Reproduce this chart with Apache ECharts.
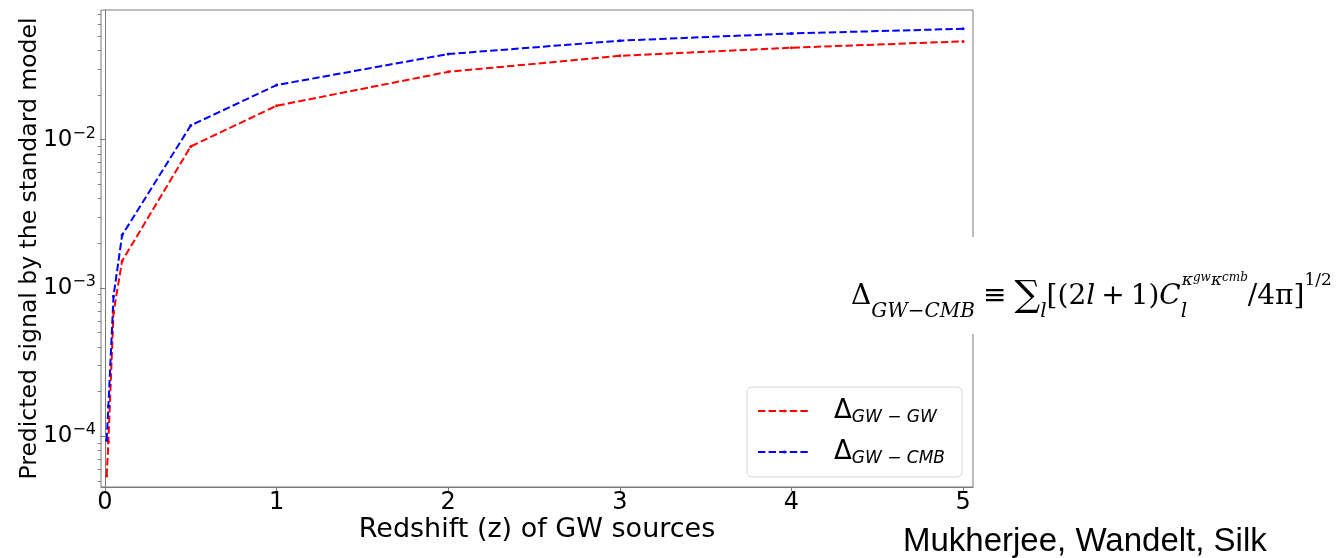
<!DOCTYPE html>
<html>
<head>
<meta charset="utf-8">
<script src="https://cdn.jsdelivr.net/npm/echarts@6/dist/echarts.min.js"></script>
<style>
  html, body { margin: 0; padding: 0; background: #ffffff; }
  #chart { width: 1336px; height: 558px; }
</style>
</head>
<body>
<div id="chart"></div>
<script>
// Redshift of the gravitational-wave sources
const redshift = [0.01, 0.02, 0.05, 0.1, 0.5, 1, 2, 3, 4, 5];
// Predicted cross-correlation signal, GW x GW
const deltaGwGw = [5.4e-5, 9.2e-5, 6.8e-4, 1.52e-3, 8.99e-3, 0.0169, 0.0286, 0.0367, 0.0416, 0.0459];
// Predicted cross-correlation signal, GW x CMB
const deltaGwCmb = [9.4e-5, 1.6e-4, 8.8e-4, 2.27e-3, 0.01245, 0.0233, 0.0377, 0.0464, 0.0519, 0.0558];

const seriesNames = ['GW-GW', 'GW-CMB'];
const legendSubscripts = ['GW − GW', 'GW − CMB'];

// Axis ticks
const xTickValues = [0, 1, 2, 3, 4, 5];
const yMajorTicks = [1e-4, 1e-3, 1e-2];
const yMinorTicks = [5e-5, 6e-5, 7e-5, 8e-5, 9e-5,
                     2e-4, 3e-4, 4e-4, 5e-4, 6e-4, 7e-4, 8e-4, 9e-4,
                     2e-3, 3e-3, 4e-3, 5e-3, 6e-3, 7e-3, 8e-3, 9e-3,
                     2e-2, 3e-2, 4e-2, 5e-2, 6e-2, 7e-2];

// Axis extents
const xRange = [-0.023, 5.058];
const yRange = [4.55e-5, 0.0747];

const spineColor = '#7a7a7a';
const tickFont = 'DejaVu Sans';
const mathFont = 'DejaVu Serif';

const chart = echarts.init(document.getElementById('chart'), null, { renderer: 'canvas' });

function pairs(xs, ys) { return xs.map((x, i) => [x, ys[i]]); }

function lineSeries(name, values, color) {
  return {
    type: 'line',
    name: name,
    data: pairs(redshift, values),
    xAxisIndex: 0,
    yAxisIndex: 0,
    symbol: 'circle',
    symbolSize: 3,
    showSymbol: true,
    itemStyle: { color: color },
    lineStyle: { color: color, width: 2, type: [7.4, 3.2] },
    emphasis: { disabled: true },
    z: 3
  };
}

// Definition of the cross-correlation amplitude, typeset as rich text
const formulaText = '{m|Δ}{sub|GW−CMB}{sp|}{m|≡}{sp|}{sum|∑}{sub|l}{m|[(2}{mi|l}{sp2|}{m|+}{sp2|}{m|1)}' +
  '{mi|C}{subz|l}{sup|κ}{supsub|gw}{sup|κ}{supsub|cmb}{m|/4π]}{supr|1/2}';

const option = {
  animation: false,
  backgroundColor: '#ffffff',
  grid: {
    left: 101, top: 10, right: 363, bottom: 71,
    show: true, borderColor: spineColor, borderWidth: 1, backgroundColor: 'transparent'
  },
  xAxis: [{
    type: 'value',
    min: xRange[0], max: xRange[1],
    axisLine: { show: true, lineStyle: { color: spineColor, width: 1 } },
    axisTick: { show: true, length: 4, customValues: xTickValues, lineStyle: { color: spineColor } },
    axisLabel: {
      customValues: xTickValues, margin: 4,
      fontFamily: tickFont, fontSize: 24, color: '#000'
    },
    splitLine: { show: false },
    name: 'Redshift (z) of GW sources',
    nameLocation: 'middle', nameGap: 29, nameMoveOverlap: false,
    nameTextStyle: { fontFamily: tickFont, fontSize: 27, color: '#000' }
  }],
  yAxis: [{
    type: 'log', logBase: 10,
    min: yRange[0], max: yRange[1],
    axisLine: { show: true, lineStyle: { color: spineColor, width: 1 } },
    axisTick: { show: true, length: 5, customValues: yMajorTicks, lineStyle: { color: spineColor } },
    axisLabel: {
      customValues: yMajorTicks, margin: 5,
      formatter: v => '{b|10}{s|−' + Math.abs(Math.round(Math.log10(v))) + '}',
      rich: {
        b: { fontFamily: tickFont, fontSize: 23, color: '#000', lineHeight: 28, verticalAlign: 'middle' },
        s: { fontFamily: tickFont, fontSize: 16, color: '#000', lineHeight: 20, verticalAlign: 'top' }
      }
    },
    splitLine: { show: false },
    name: 'Predicted signal by the standard model',
    nameLocation: 'middle', nameGap: 59, nameRotate: 90, nameMoveOverlap: false,
    nameTextStyle: { fontFamily: tickFont, fontSize: 23.5, color: '#000' }
  }, {
    type: 'log', logBase: 10,
    min: yRange[0], max: yRange[1],
    position: 'left',
    axisLine: { show: false },
    axisTick: { show: true, length: 3, customValues: yMinorTicks, lineStyle: { color: spineColor } },
    axisLabel: { show: false },
    splitLine: { show: false }
  }],
  legend: {
    orient: 'vertical',
    left: 747, top: 387,
    itemWidth: 53, itemHeight: 4, itemGap: 13,
    padding: [11, 17, 10, 10],
    borderColor: '#d6d6d6', borderWidth: 1, borderRadius: 5,
    backgroundColor: 'rgba(255,255,255,0.8)',
    data: seriesNames,
    formatter: name => '{gap|}{d|Δ}{s|' + legendSubscripts[seriesNames.indexOf(name)] + '}',
    textStyle: {
      rich: {
        gap: { width: 18 },
        d: { fontFamily: tickFont, fontSize: 26, color: '#000', lineHeight: 30, verticalAlign: 'middle' },
        s: { fontFamily: tickFont, fontSize: 17, fontStyle: 'italic', color: '#000', lineHeight: 16, verticalAlign: 'bottom' }
      }
    }
  },
  graphic: [
    {
      type: 'rect', z: 50,
      shape: { x: 845, y: 237, width: 491, height: 97 },
      style: { fill: '#ffffff' }
    },
    {
      type: 'text', z: 51,
      style: {
        x: 851, y: 272, align: 'left', verticalAlign: 'top',
        text: formulaText,
        rich: {
          m: { fontFamily: mathFont, fontSize: 28, lineHeight: 50, verticalAlign: 'middle', fill: '#000' },
          mi: { fontFamily: mathFont, fontStyle: 'italic', fontSize: 28, lineHeight: 50, verticalAlign: 'middle', fill: '#000' },
          sp: { width: 8 },
          sp2: { width: 6 },
          sum: { fontFamily: mathFont, fontSize: 36, lineHeight: 50, verticalAlign: 'middle', fill: '#000' },
          sub: { fontFamily: mathFont, fontStyle: 'italic', fontSize: 20, lineHeight: 38, verticalAlign: 'bottom', fill: '#000' },
          subz: { fontFamily: mathFont, fontStyle: 'italic', fontSize: 20, lineHeight: 38, verticalAlign: 'bottom', width: 1, fill: '#000' },
          sup: { fontFamily: mathFont, fontStyle: 'italic', fontSize: 17, lineHeight: 32, verticalAlign: 'top', fill: '#000' },
          supr: { fontFamily: mathFont, fontSize: 17, lineHeight: 26, verticalAlign: 'top', fill: '#000' },
          supsub: { fontFamily: mathFont, fontStyle: 'italic', fontSize: 12, lineHeight: 40, verticalAlign: 'top', fill: '#000' }
        }
      }
    },
    {
      type: 'text', z: 51,
      style: {
        x: 903, y: 542, align: 'left', verticalAlign: 'middle',
        text: 'Mukherjee, Wandelt, Silk',
        font: '33px "Liberation Sans"', fill: '#000'
      }
    }
  ],
  series: [
    lineSeries(seriesNames[0], deltaGwGw, '#ff0000'),
    lineSeries(seriesNames[1], deltaGwCmb, '#0000ff')
  ]
};

chart.setOption(option);
</script>
</body>
</html>
